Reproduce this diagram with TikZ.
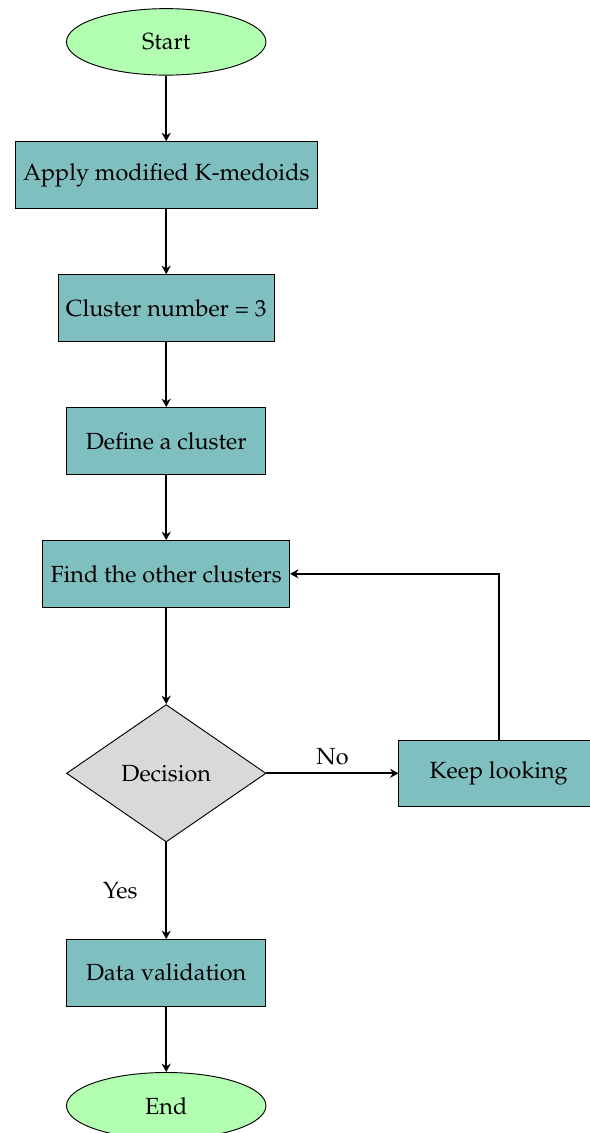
\documentclass[tikz,border=0pt]{standalone}
\usepackage[T1]{fontenc}
\usepackage{mathpazo}
\usepackage{xcolor}
\usepackage{tikz}
\usetikzlibrary{arrows.meta,shapes.geometric,positioning}
\tikzset{
  termbox/.style={ellipse, draw, fill=green!30, minimum width=3cm,
                  minimum height=1cm, align=center},
  procbox/.style={rectangle, draw, fill=teal!50, minimum width=3cm,
                  minimum height=1cm, align=center},
  decbox/.style ={diamond, draw, fill=gray!30,
                  minimum width=3cm, minimum height=1cm, align=center},
  arr/.style    ={-{Stealth[length=3.6pt, width=3.9pt]}, thick},
}

\begin{document}
\begin{tikzpicture}[node distance=2cm, on grid]
  \useasboundingbox (-2.5,0.63) rectangle (6.36,-16.41);
  \node[termbox] (start) {Start};
  \node[procbox, below=of start] (kmed) {Apply modified K-medoids};
  \node[procbox, below=of kmed] (num) {Cluster number = 3};
  \node[procbox, below=of num] (def) {Define a cluster};
  \node[procbox, below=of def] (find) {Find the other clusters};
  \node[decbox, below=3cm of find] (dec) {Decision};
  \node[procbox, right=5cm of dec] (keep) {Keep looking};
  \node[procbox, below=3cm of dec] (valid) {Data validation};
  \node[termbox, below=of valid] (stop) {End};
  \draw[arr] (start) -- (kmed);
  \draw[arr] (kmed) -- (num);
  \draw[arr] (num) -- (def);
  \draw[arr] (def) -- (find);
  \draw[arr] (find) -- (dec);
  \draw[arr] (dec) -- node[above] {No} (keep);
  \draw[arr] (dec) -- node[left=0.3cm, on grid=false] {Yes} (valid);
  \draw[arr] (keep.north) |- (find.east);
  \draw[arr] (valid) -- (stop);
\end{tikzpicture}
\end{document}
